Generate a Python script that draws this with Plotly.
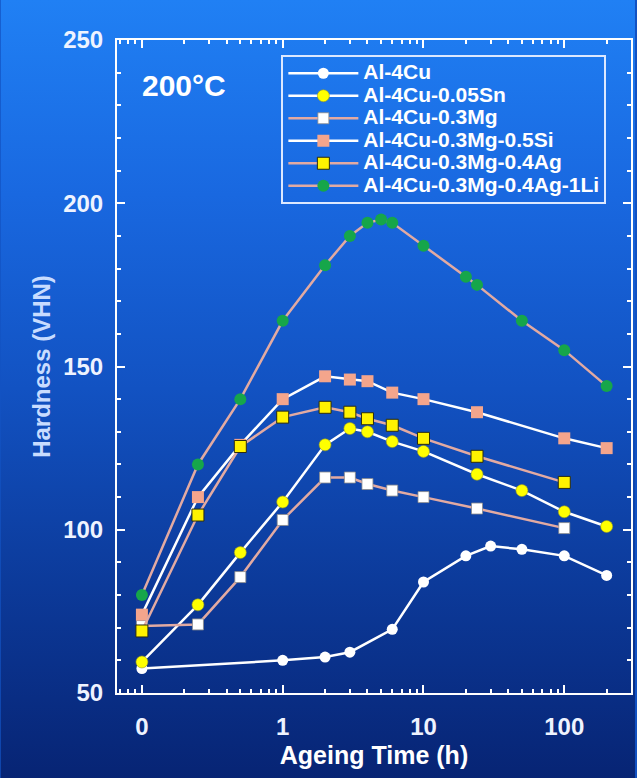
import base64
import plotly.graph_objects as go

# ---------------- data ----------------
series_names = ["Al-4Cu", "Al-4Cu-0.05Sn", "Al-4Cu-0.3Mg", "Al-4Cu-0.3Mg-0.5Si",
                "Al-4Cu-0.3Mg-0.4Ag", "Al-4Cu-0.3Mg-0.4Ag-1Li"]

times_cu = [0, 1, 2, 3, 6, 10, 20, 30, 50, 100, 200]
hv_cu = [57.5, 60, 61, 62.5, 69.5, 84, 92, 95, 94, 92, 86]

times_sn = [0, 0.25, 0.5, 1, 2, 3, 4, 6, 10, 24, 50, 100, 200]
hv_sn = [59.5, 77, 93, 108.5, 126, 131, 130, 127, 124, 117, 112, 105.5, 101]

times_mg = [0, 0.25, 0.5, 1, 2, 3, 4, 6, 10, 24, 100]
hv_mg = [70.5, 71, 85.5, 103, 116, 116, 114, 112, 110, 106.5, 100.5]

times_si = [0, 0.25, 0.5, 1, 2, 3, 4, 6, 10, 24, 100, 200]
hv_si = [74, 110, 126, 140, 147, 146, 145.5, 142, 140, 136, 128, 125]

times_ag = [0, 0.25, 0.5, 1, 2, 3, 4, 6, 10, 24, 100]
hv_ag = [69, 104.5, 125.5, 134.5, 137.5, 136, 134, 132, 128, 122.5, 114.5]

times_li = [0, 0.25, 0.5, 1, 2, 3, 4, 5, 6, 10, 20, 24, 50, 100, 200]
hv_li = [80, 120, 140, 164, 181, 190, 194, 195, 194, 187, 177.5, 175, 164, 155, 144]

x_tick_times = [0, 1, 10, 100]
x_tick_labels = ["0", "1", "10", "100"]
y_tick_vals = [50, 100, 150, 200, 250]

# axis convention of the original figure: t = 0 is drawn one decade below 1 h
ZERO_POS = 0.1


def axis_x(ts):
    return [ZERO_POS if t == 0 else t for t in ts]


# ---------------- styling ----------------
W, H = 637, 778
ML, MR, MT, MB = 117, 4, 40, 85
PW, PH = W - ML - MR, H - MT - MB
FONT = "Liberation Sans, Arial, sans-serif"
WHITE = "#ffffff"
SALMON_LINE = "#e2aaa2"
LEG_FS = 21

styles = [
    dict(line=WHITE, symbol="circle", color=WHITE, size=11, mline=WHITE, mw=0),
    dict(line=WHITE, symbol="circle", color="#ffff00", size=12, mline="#9a9a20", mw=0.6),
    dict(line=SALMON_LINE, symbol="square", color=WHITE, size=11, mline="#8a8a8a", mw=0.8),
    dict(line=WHITE, symbol="square", color="#f4a58c", size=12, mline="#f4a58c", mw=0),
    dict(line=SALMON_LINE, symbol="square", color="#fff200", size=12, mline="#2a2a10", mw=1),
    dict(line=SALMON_LINE, symbol="circle", color="#16a64a", size=12, mline="#16a64a", mw=0),
]
all_times = [times_cu, times_sn, times_mg, times_si, times_ag, times_li]
all_hv = [hv_cu, hv_sn, hv_mg, hv_si, hv_ag, hv_li]

fig = go.Figure()
for name, ts, hv, st in zip(series_names, all_times, all_hv, styles):
    fig.add_trace(go.Scatter(
        x=axis_x(ts), y=hv, mode="lines+markers",
        name=f"<span style='font-size:{LEG_FS}px'>{name}</span>",
        line=dict(color=st["line"], width=2.5),
        marker=dict(symbol=st["symbol"], color=st["color"], size=st["size"],
                    line=dict(color=st["mline"], width=st["mw"])),
    ))

# minor tick positions for the log axis
minor_x = []
for dec in [0.01, 0.1, 1, 10, 100]:
    for k in range(2, 10):
        minor_x.append(dec * k)

# gradient background (slide photo look)
svg = (
    f'<svg xmlns="http://www.w3.org/2000/svg" width="{W}" height="{H}" preserveAspectRatio="none">'
    '<defs><linearGradient id="g" x1="0" y1="0" x2="0" y2="1">'
    '<stop offset="0" stop-color="#2080f4"/>'
    '<stop offset="0.25" stop-color="#1968e0"/>'
    '<stop offset="0.5" stop-color="#1252c2"/>'
    '<stop offset="0.75" stop-color="#0c3a9a"/>'
    '<stop offset="1" stop-color="#072474"/>'
    '</linearGradient></defs>'
    f'<rect width="{W}" height="{H}" fill="url(#g)"/></svg>'
)
bg_src = "data:image/svg+xml;base64," + base64.b64encode(svg.encode()).decode()

axis_common = dict(
    showline=True, linecolor=WHITE, linewidth=2, mirror="allticks",
    ticks="inside", ticklen=8, tickwidth=2, tickcolor=WHITE,
    showgrid=False, zeroline=False,
    tickfont=dict(family=FONT, size=24, color="#eef3ff", weight="bold"),
)

fig.update_layout(
    width=W, height=H,
    margin=dict(l=ML, r=MR, t=MT, b=MB),
    paper_bgcolor="#1252c2", plot_bgcolor="rgba(0,0,0,0)",
    showlegend=True,
    legend=dict(
        x=(282 - ML) / PW, y=(PH + MT - 55) / PH, xanchor="left", yanchor="top",
        bgcolor="rgba(0,0,0,0)", bordercolor="#dce8ff", borderwidth=2,
        font=dict(family=FONT, size=15, color=WHITE, weight="bold"),
        itemwidth=70, entrywidth=262, entrywidthmode="pixels",
    ),
    images=[dict(source=bg_src, xref="paper", yref="paper",
                 x=-ML / PW, y=1 + MT / PH, sizex=W / PW, sizey=H / PH,
                 xanchor="left", yanchor="top", sizing="stretch", layer="below")],
    annotations=[dict(text="200°C", xref="paper", yref="paper",
                      x=(140 - ML) / PW, y=(PH + MT - 85) / PH,
                      xanchor="left", yanchor="middle", showarrow=False,
                      font=dict(family=FONT, size=30, color=WHITE, weight="bold"))],
)

fig.update_xaxes(
    type="log", range=[-1.177, 2.474],
    tickmode="array", tickvals=axis_x(x_tick_times), ticktext=x_tick_labels,
    ticklabelstandoff=11,
    minor=dict(tickmode="array", tickvals=minor_x, ticks="inside", ticklen=4,
               tickwidth=1.5, tickcolor=WHITE, showgrid=False),
    title=dict(text="Ageing Time (h)", standoff=8,
               font=dict(family=FONT, size=25, color=WHITE, weight="bold")),
    **axis_common,
)
fig.update_yaxes(
    range=[50, 250], tickmode="array", tickvals=y_tick_vals,
    ticklabelstandoff=7,
    minor=dict(dtick=10, ticks="inside", ticklen=4, tickwidth=1.5,
               tickcolor=WHITE, showgrid=False),
    title=dict(text="Hardness (VHN)", standoff=6,
               font=dict(family=FONT, size=24, color="#c8dcff", weight="bold")),
    **axis_common,
)

fig.write_html("out.html")
